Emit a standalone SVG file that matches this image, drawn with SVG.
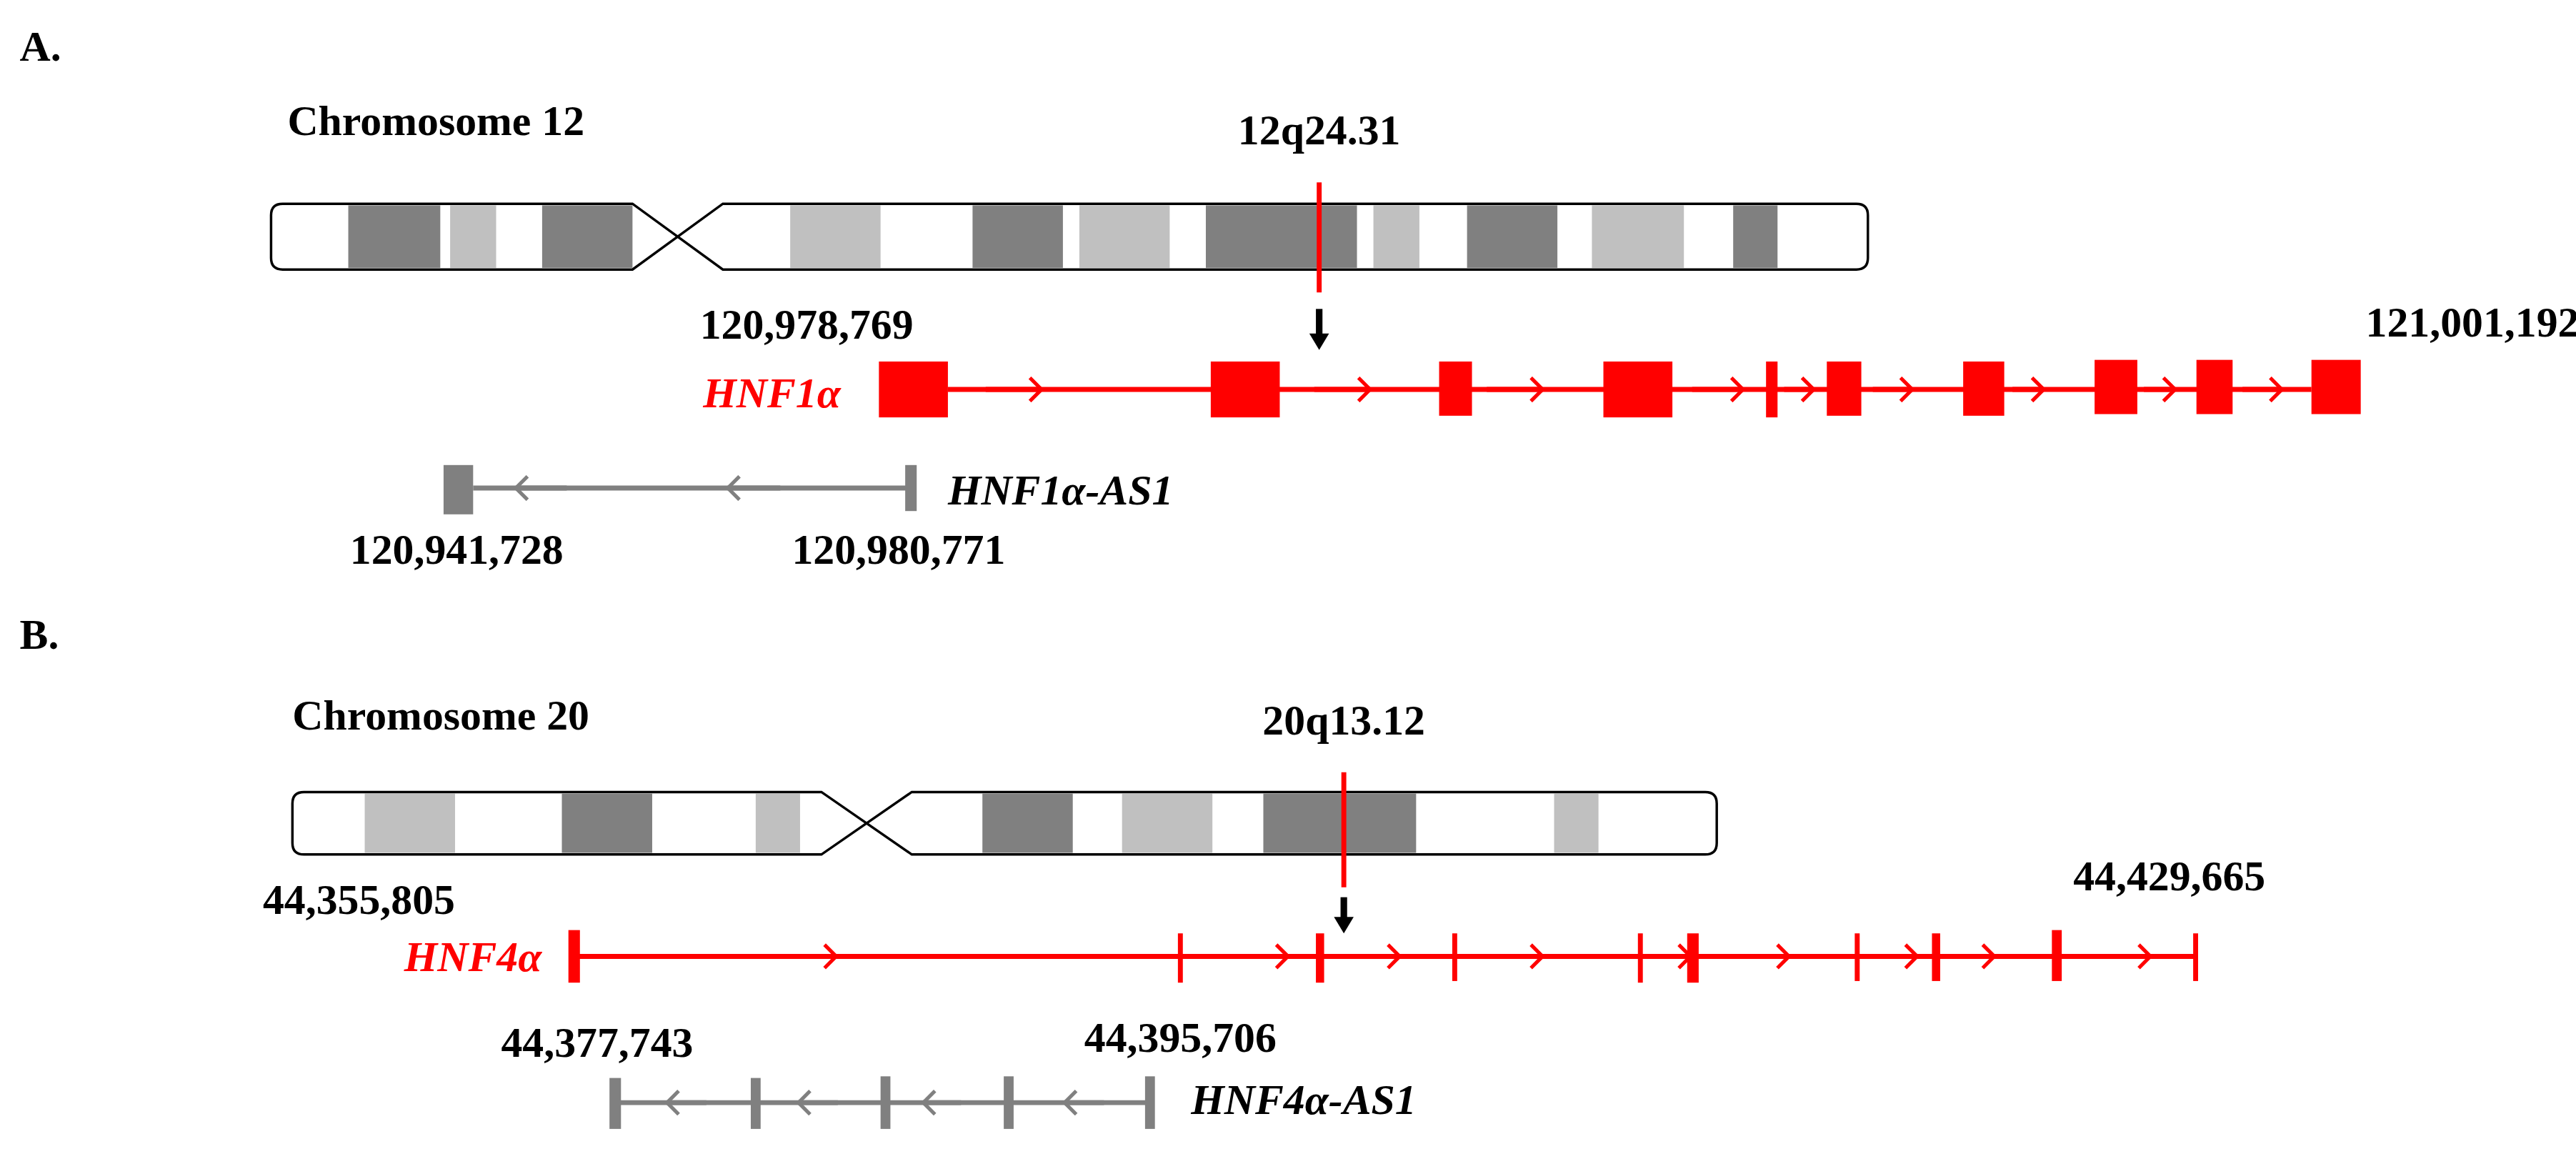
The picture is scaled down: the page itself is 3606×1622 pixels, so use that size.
<svg xmlns="http://www.w3.org/2000/svg" width="3606" height="1622" viewBox="0 0 3606 1622">
<defs>
<style>
.t{font-family:"Liberation Serif","Times New Roman",serif;font-weight:bold;font-size:26px;fill:#000}
.i{font-style:italic}
.r{fill:#ff0000}
.ol{fill:none;stroke:#000;stroke-width:1.5}
.d{fill:#808080}
.l{fill:#c0c0c0}
.gl{stroke:#ff0000;stroke-width:3;fill:none}
.gg{stroke:#808080;stroke-width:3;fill:none}
.ex{fill:#ff0000}
.eg{fill:#808080}
</style>
<marker id="ch" viewBox="0 0 10 18" refX="9" refY="9" markerWidth="9" markerHeight="16" orient="auto" markerUnits="userSpaceOnUse"><path d="M1,1 L9,9 L1,17" fill="none" stroke="context-stroke" stroke-width="2.5"/></marker>
</defs>
<rect width="3606" height="1622" fill="#fff"/>
<g transform="scale(2.2997)">
<g id="labels">
<text class="t" x="12" y="37">A.</text>
<text class="t" x="12" y="395">B.</text>
<text class="t" x="175" y="82">Chromosome 12</text>
<text class="t" x="178" y="444">Chromosome 20</text>
</g>
<g id="chr12">
<rect class="d" x="212" y="125" width="56" height="38"/>
<rect class="l" x="274" y="125" width="28" height="38"/>
<rect class="d" x="330" y="125" width="55" height="38"/>
<rect class="l" x="481" y="125" width="55" height="38"/>
<rect class="d" x="592" y="125" width="55" height="38"/>
<rect class="l" x="657" y="125" width="55" height="38"/>
<rect class="d" x="734" y="125" width="92" height="38"/>
<rect class="l" x="836" y="125" width="28" height="38"/>
<rect class="d" x="893" y="125" width="55" height="38"/>
<rect class="l" x="969" y="125" width="56" height="38"/>
<rect class="d" x="1055" y="125" width="27" height="38"/>
<path class="ol" d="M385,124 L172,124 Q165,124 165,131 L165,157 Q165,164 172,164 L385,164 L440,124 L1130,124 Q1137,124 1137,131 L1137,157 Q1137,164 1130,164 L440,164 Z"/>
</g>
<g id="chr20">
<rect class="l" x="222" y="483" width="55" height="36"/>
<rect class="d" x="342" y="483" width="55" height="36"/>
<rect class="l" x="460" y="483" width="27" height="36"/>
<rect class="d" x="598" y="483" width="55" height="36"/>
<rect class="l" x="683" y="483" width="55" height="36"/>
<rect class="d" x="769" y="483" width="93" height="36"/>
<rect class="l" x="946" y="483" width="27" height="36"/>
<path class="ol" d="M500,482 L185,482 Q178,482 178,489 L178,513 Q178,520 185,520 L500,520 L555,482 L1038,482 Q1045,482 1045,489 L1045,513 Q1045,520 1038,520 L555,520 Z"/>
</g>
<g id="locus12">
<text class="t" x="803" y="88" text-anchor="middle">12q24.31</text>
<line x1="803" y1="111" x2="803" y2="178" stroke="#ff0000" stroke-width="3"/>
<line x1="803" y1="188" x2="803" y2="205" stroke="#000" stroke-width="4"/>
<path d="M797,203 L809,203 L803,213 Z" fill="#000"/>
</g>
<g id="locus20">
<text class="t" x="818" y="447" text-anchor="middle">20q13.12</text>
<line x1="818" y1="470" x2="818" y2="540" stroke="#ff0000" stroke-width="3"/>
<line x1="818" y1="546" x2="818" y2="560" stroke="#000" stroke-width="4"/>
<path d="M812,558 L824,558 L818,568 Z" fill="#000"/>
</g>
<g id="connectors">
<line class="gl" x1="577" y1="237" x2="1407" y2="237"/>
<g class="gl" marker-end="url(#ch)">
<line x1="600" y1="237" x2="634" y2="237"/><line x1="800" y1="237" x2="834" y2="237"/><line x1="905" y1="237" x2="939" y2="237"/><line x1="1030" y1="237" x2="1061" y2="237"/><line x1="1086" y1="237" x2="1104" y2="237"/><line x1="1140" y1="237" x2="1164" y2="237"/><line x1="1225" y1="237" x2="1244" y2="237"/><line x1="1305" y1="237" x2="1324" y2="237"/><line x1="1365" y1="237" x2="1389" y2="237"/>
</g>
<line class="gg" x1="288" y1="297" x2="552" y2="297"/>
<g class="gg" marker-end="url(#ch)">
<line x1="345" y1="297" x2="314" y2="297"/><line x1="475" y1="297" x2="443" y2="297"/>
</g>
<line class="gl" x1="348" y1="582" x2="1337" y2="582"/>
<g class="gl" marker-end="url(#ch)">
<line x1="480" y1="582" x2="509" y2="582"/><line x1="760" y1="582" x2="784" y2="582"/><line x1="830" y1="582" x2="852" y2="582"/><line x1="915" y1="582" x2="939" y2="582"/><line x1="1010" y1="582" x2="1029" y2="582"/><line x1="1065" y1="582" x2="1089" y2="582"/><line x1="1145" y1="582" x2="1167" y2="582"/><line x1="1190" y1="582" x2="1214" y2="582"/><line x1="1285" y1="582" x2="1309" y2="582"/>
</g>
<line class="gg" x1="374" y1="671" x2="700" y2="671"/>
<g class="gg" marker-end="url(#ch)">
<line x1="430" y1="671" x2="406" y2="671"/><line x1="510" y1="671" x2="486" y2="671"/><line x1="585" y1="671" x2="562" y2="671"/><line x1="672" y1="671" x2="648" y2="671"/>
</g>
</g>
<g id="HNF1a">
<text class="t i r" x="428" y="248">HNF1α</text>
<text class="t" x="426" y="206">120,978,769</text>
<text class="t" x="1440" y="205">121,001,192</text>
<rect class="ex" x="535" y="220" width="42" height="34"/>
<rect class="ex" x="737" y="220" width="42" height="34"/>
<rect class="ex" x="876" y="220" width="20" height="33"/>
<rect class="ex" x="976" y="220" width="42" height="34"/>
<rect class="ex" x="1075" y="220" width="7" height="34"/>
<rect class="ex" x="1112" y="220" width="21" height="33"/>
<rect class="ex" x="1195" y="220" width="25" height="33"/>
<rect class="ex" x="1275" y="219" width="26" height="33"/>
<rect class="ex" x="1337" y="219" width="22" height="33"/>
<rect class="ex" x="1407" y="219" width="30" height="33"/>
</g>
<g id="HNF1a-AS1">
<rect class="eg" x="270" y="283" width="18" height="30"/>
<rect class="eg" x="551" y="283" width="7" height="28"/>
<text class="t i" x="577" y="307">HNF1α-AS1</text>
<text class="t" x="213" y="343">120,941,728</text>
<text class="t" x="482" y="343">120,980,771</text>
</g>
<g id="HNF4a">
<text class="t i r" x="246" y="591">HNF4α</text>
<text class="t" x="160" y="556">44,355,805</text>
<text class="t" x="1262" y="542">44,429,665</text>
<rect class="ex" x="346" y="566" width="7" height="32"/>
<rect class="ex" x="717" y="568" width="3" height="30"/>
<rect class="ex" x="801" y="568" width="5" height="30"/>
<rect class="ex" x="884" y="568" width="3" height="29"/>
<rect class="ex" x="997" y="568" width="3" height="30"/>
<rect class="ex" x="1027" y="568" width="7" height="30"/>
<rect class="ex" x="1129" y="568" width="3" height="29"/>
<rect class="ex" x="1176" y="568" width="5" height="29"/>
<rect class="ex" x="1249" y="566" width="6" height="31"/>
<rect class="ex" x="1335" y="568" width="3" height="29"/>
</g>
<g id="HNF4a-AS1">
<rect class="eg" x="371" y="656" width="7" height="31"/>
<rect class="eg" x="457" y="656" width="6" height="31"/>
<rect class="eg" x="536" y="655" width="6" height="32"/>
<rect class="eg" x="611" y="655" width="6" height="32"/>
<rect class="eg" x="697" y="655" width="6" height="32"/>
<text class="t" x="305" y="643">44,377,743</text>
<text class="t" x="660" y="640">44,395,706</text>
<text class="t i" x="725" y="678">HNF4α-AS1</text>
</g>
</g>
</svg>
